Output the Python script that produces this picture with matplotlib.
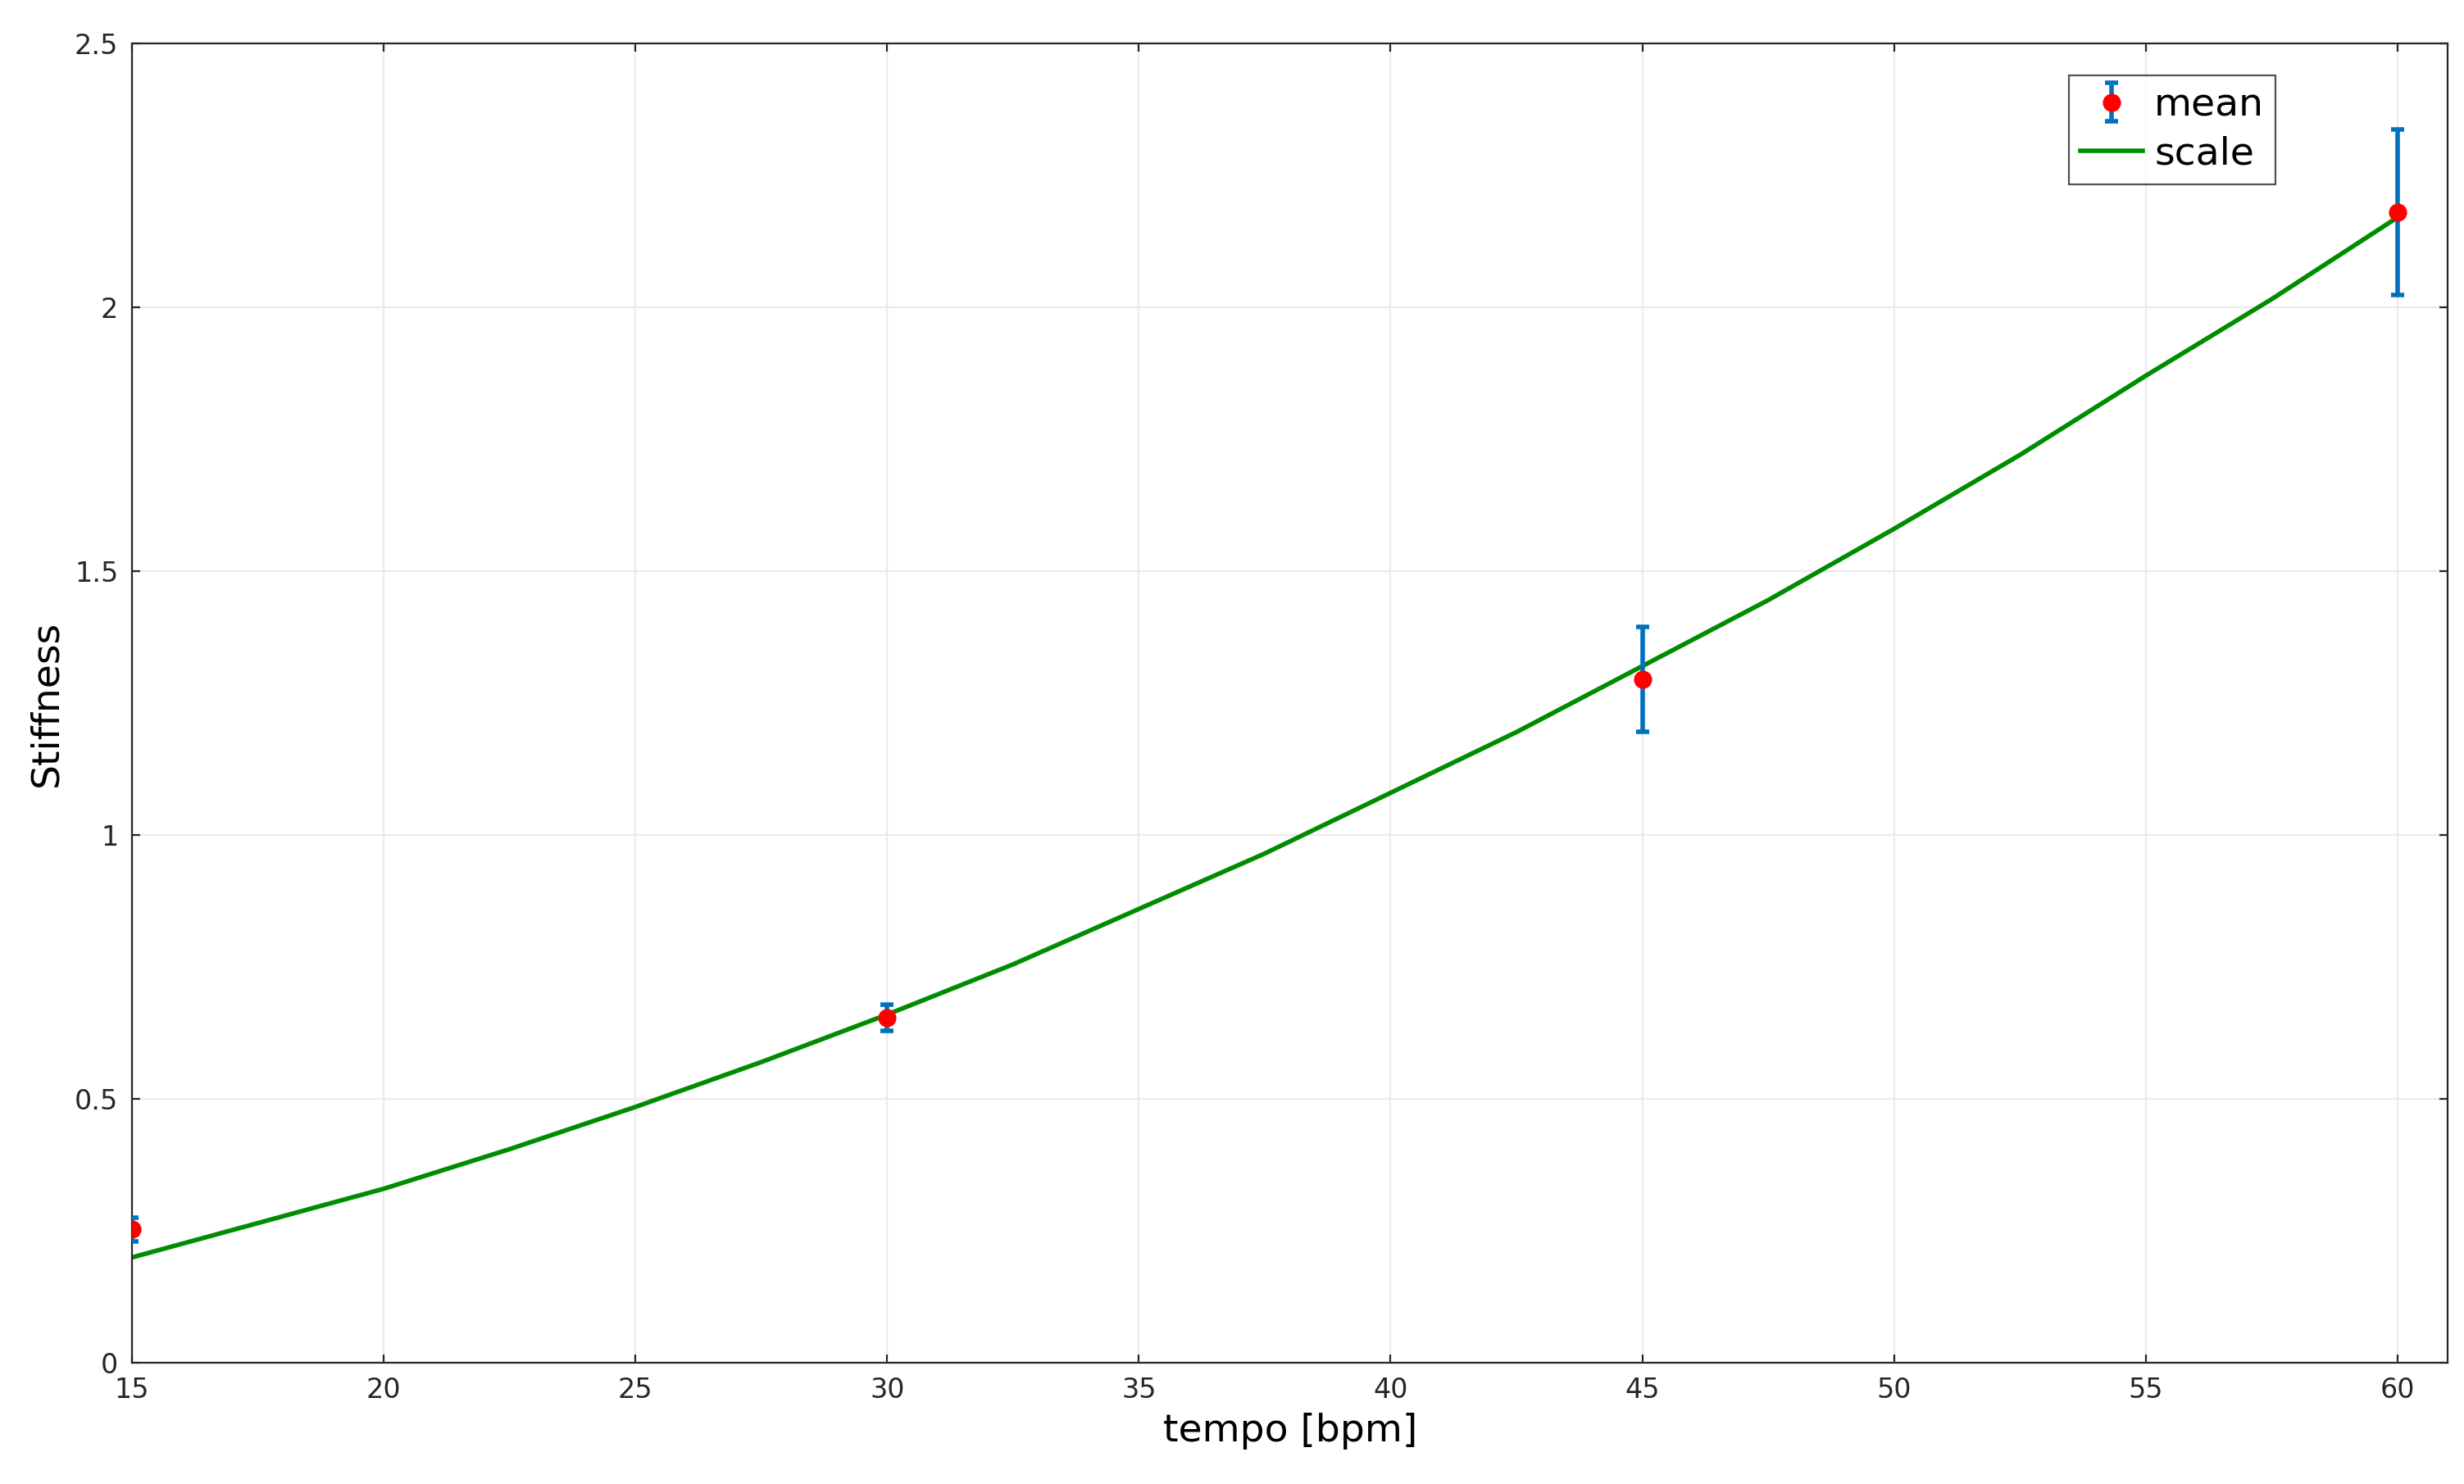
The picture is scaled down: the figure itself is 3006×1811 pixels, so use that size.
import matplotlib.pyplot as plt
import numpy as np

tempo = [15, 30, 45, 60]
mean_stiff = [0.253, 0.654, 1.295, 2.18]
err_stiff = [0.022, 0.025, 0.100, 0.157]

scale_x = [15, 17.5, 20, 22.5, 25, 27.5, 30, 32.5, 35, 37.5, 40, 42.5, 45, 47.5, 50, 52.5, 55, 57.5, 60]
scale_y = [0.20, 0.265, 0.33, 0.405, 0.485, 0.57, 0.66, 0.755, 0.86, 0.965, 1.08, 1.195, 1.32, 1.445, 1.58, 1.72, 1.87, 2.015, 2.17]

fig = plt.figure(figsize=(15.03, 9.055), dpi=200)
ax = fig.add_axes([0.0535, 0.0815, 0.94, 0.8895])

h1 = ax.errorbar(tempo, mean_stiff, yerr=err_stiff, fmt='o', color='red', markersize=7,
                 ecolor='#0072BD', elinewidth=2, capsize=3, capthick=2, label='mean', zorder=3)
h2, = ax.plot(scale_x, scale_y, color='#008c00', lw=2, label='scale', zorder=2)

ax.set_xlim(15, 61)
ax.set_ylim(0, 2.5)
ax.set_xticks(np.arange(15, 61, 5))
ax.set_yticks([0, 0.5, 1, 1.5, 2, 2.5])
ax.set_yticklabels(['0', '0.5', '1', '1.5', '2', '2.5'])
ax.grid(True, color='#ebebeb', lw=0.8)
ax.set_axisbelow(True)
ax.tick_params(direction='in', top=True, right=True, labelsize=12, colors='#262626', pad=6)
for s in ax.spines.values():
    s.set_color('#262626')
ax.set_xlabel('tempo [bpm]', fontsize=17)
ax.set_ylabel('Stiffness', fontsize=17)

leg = ax.legend([h1, h2], ['mean', 'scale'], loc='upper right', bbox_to_anchor=(0.934, 0.99),
                fontsize=17, fancybox=False, edgecolor='#262626',
                handlelength=1.6, handletextpad=0.3, borderpad=0.3, labelspacing=0.3)
leg.get_frame().set_linewidth(0.8)

plt.savefig('out.png', dpi=200)
